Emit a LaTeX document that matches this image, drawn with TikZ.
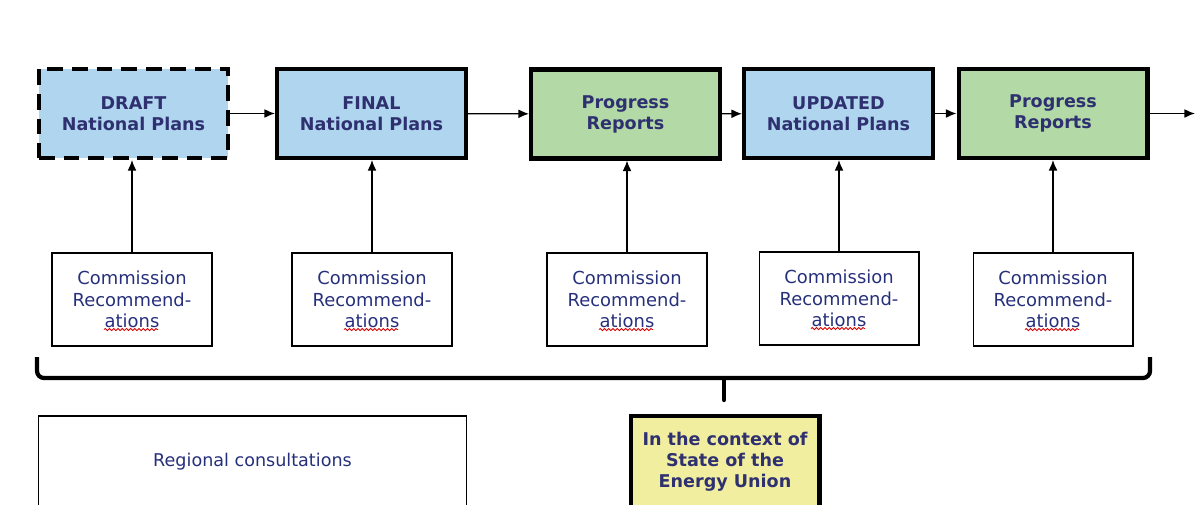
\documentclass[tikz,border=0pt]{standalone}
\usepackage{fontspec}
\setmainfont{DejaVu Sans}
\usetikzlibrary{arrows.meta,calc,decorations.pathmorphing}
\definecolor{planblue}{HTML}{AFD5EF}
\definecolor{reportgreen}{HTML}{B2D9A6}
\definecolor{unionyellow}{HTML}{F2EEA0}
\definecolor{titlenavy}{HTML}{2E3070}
\definecolor{textnavy}{HTML}{26307A}
\begin{document}
\begin{tikzpicture}[x=0.02cm,y=-0.02cm,
    stage/.style={draw,line width=2.3pt,minimum width=3.78cm,minimum height=1.78cm,
                  align=center,font=\fontsize{10}{12}\selectfont\bfseries,text=titlenavy},
    plan/.style={stage,fill=planblue},
    report/.style={stage,fill=reportgreen},
    recom/.style={draw,line width=0.6pt,minimum width=3.2cm,minimum height=1.86cm,
                  align=center,font=\fontsize{10.2}{12.2}\selectfont,text=textnavy},
    flow/.style={-{Latex[length=6pt,width=5pt]},line width=0.7pt},
    spell/.style={red!85!black,line width=0.5pt,decorate,
                  decoration={snake,amplitude=0.6pt,segment length=2.4pt}}]
  \useasboundingbox (0,0) rectangle (1195,504);
  \node[plan,dashed,dash pattern=on 9pt off 5pt] (draft) at (133.5,113.5) {DRAFT\\National Plans};
  \node[plan] (final) at (371.5,113.5) {FINAL\\National Plans};
  \node[report] (prog1) at (625.5,114) {Progress\\Reports};
  \node[plan] (updated) at (838.5,113.5) {UPDATED\\National Plans};
  \node[report] (prog2) at (1053,113.5) {Progress\\Reports};
  \coordinate (next) at (1195,113.5);
  \draw[flow] (draft) -- (final);
  \draw[flow] (final) -- (prog1);
  \draw[flow] (prog1) -- (updated);
  \draw[flow] (updated) -- (prog2);
  \draw[flow] (prog2) -- (next);
  \foreach \name/\x/\y/\top in {rec1/132/299.5/draft,rec2/372/299.5/final,rec3/627/299.5/prog1,
                                rec4/839/298.5/updated,rec5/1053/299.5/prog2}{
    \node[recom] (\name) at (\x,\y) {Commission\\Recommend-\\ations};
    \draw[flow] (\name.north) -- (\name.north |- \top.south);
    \draw[spell] ($(\name.south)+(-28,-17)$) -- ($(\name.south)+(26,-17)$);
  }
  \coordinate (braceL) at (37,357);
  \coordinate (braceM) at (724,378);
  \coordinate (braceR) at (1150,357);
  \coordinate (braceT) at (724,400);
  \draw[line width=2.4pt,rounded corners=4pt] (braceL) |- (braceM) -| (braceR);
  \draw[line width=2.4pt,line cap=round] (braceM) -- (braceT);
  \fill ($(braceM)+(-5,-1)$) .. controls ($(braceM)+(-1,0)$) .. ($(braceM)+(-1.5,8)$)
        -- ($(braceM)+(1.5,8)$) .. controls ($(braceM)+(1,0)$) .. ($(braceM)+(5,-1)$) -- cycle;
  \node[draw,line width=0.6pt,minimum width=8.56cm,minimum height=1.84cm,
        font=\fontsize{10}{12}\selectfont,text=textnavy] (regional) at (252.5,462) {Regional consultations};
  \node[stage,fill=unionyellow,minimum height=1.84cm] (union) at (725,462) {In the context of\\State of the\\Energy Union};
\end{tikzpicture}
\end{document}
